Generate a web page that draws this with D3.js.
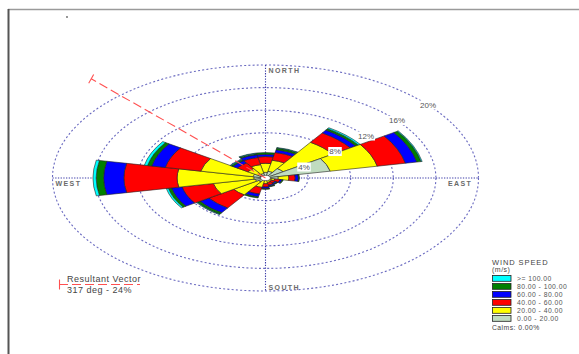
<!DOCTYPE html>
<html>
<head>
<meta charset="utf-8">
<script src="https://cdn.jsdelivr.net/npm/d3@7"></script>
<style>
  body { margin: 0; background: #fff; }
  svg { display: block; }
  text { font-family: Arial, "Liberation Sans", sans-serif; }
</style>
</head>
<body>
<svg id="chart" width="579" height="354"></svg>
<script>
// Sixteen compass sectors, clockwise from north
const directions = ["N", "NNE", "NE", "ENE", "E", "ESE", "SE", "SSE",
                    "S", "SSW", "SW", "WSW", "W", "WNW", "NW", "NNW"];

// Frequency (%) of each wind-speed class per direction
const speed0to20   = [1.0, 1.2, 2.0, 6.2, 1.2, 0.4, 0.3, 0.3, 0.4, 0.5, 0.8, 1.0, 1.1, 1.2, 0.6, 0.8];
const speed20to40  = [1.6, 2.0, 5.6, 4.5, 1.0, 0.5, 0.4, 0.5, 0.6, 1.2, 2.8, 4.0, 7.2, 5.0, 1.4, 1.6];
const speed40to60  = [1.2, 1.4, 2.0, 2.7, 0.6, 0.5, 0.4, 0.5, 0.6, 1.2, 2.8, 3.0, 5.0, 3.4, 1.2, 1.3];
const speed60to80  = [0.4, 0.5, 0.6, 1.1, 0.3, 0.2, 0.2, 0.2, 0.3, 0.5, 1.0, 1.0, 1.9, 1.3, 0.5, 0.5];
const speed80to100 = [0.3, 0.3, 0.3, 0.4, 0.1, 0.1, 0.1, 0.1, 0.1, 0.2, 0.3, 0.3, 0.7, 0.4, 0.2, 0.2];
const speed100up   = [0.0, 0.1, 0.2, 0.1, 0.0, 0.0, 0.0, 0.0, 0.0, 0.0, 0.1, 0.2, 0.3, 0.3, 0.1, 0.1];

const speedSeries = [speed0to20, speed20to40, speed40to60, speed60to80, speed80to100, speed100up];
const speedColors = ["#c0dcc0", "#ffff00", "#ff0000", "#0000ff", "#008000", "#00ffff"];
const speedLabels = ["0.00 - 20.00", "20.00 - 40.00", "40.00 - 60.00",
                     "60.00 - 80.00", "80.00 - 100.00", ">= 100.00"];

const ringTicks = [4, 8, 12, 16, 20];
const ringLabels = ["4%", "8%", "12%", "16%", "20%"];
const compassLabels = ["NORTH", "EAST", "SOUTH", "WEST"];

const resultantDeg = 317;
const resultantPct = 24;
const calmsLabel = "Calms: 0.00%";

// ---------------------------------------------------------------
const svg = d3.select("#chart");
const cx = 265.5, cy = 178;
const maxPct = 20;
const rx = d3.scaleLinear().domain([0, maxPct]).range([0, 213]);
const ry = d3.scaleLinear().domain([0, maxPct]).range([0, 113]);
const holePct = 0.45;

// Page frame
svg.append("line").attr("x1", 8).attr("y1", 9.5).attr("x2", 579).attr("y2", 9.5)
  .attr("stroke", "#9a9a9a").attr("stroke-width", 1.5);
svg.append("line").attr("x1", 8.5).attr("y1", 9).attr("x2", 8.5).attr("y2", 354)
  .attr("stroke", "#555").attr("stroke-width", 2);
svg.append("circle").attr("cx", 67).attr("cy", 17).attr("r", 0.9).attr("fill", "#666");

// Percentage rings (elliptical)
const grid = svg.append("g");
grid.selectAll("ellipse").data(ringTicks).join("ellipse")
  .attr("cx", cx).attr("cy", cy)
  .attr("rx", d => rx(d)).attr("ry", d => ry(d))
  .attr("fill", "none").attr("stroke", "#6a6ac0").attr("stroke-width", 1.1)
  .attr("stroke-dasharray", "2 2.2");

// Compass axes
grid.append("line").attr("x1", cx).attr("x2", cx).attr("y1", cy - ry(maxPct)).attr("y2", cy + ry(maxPct))
  .attr("stroke", "#3c3ca8").attr("stroke-width", 1.1).attr("stroke-dasharray", "1.3 1.4");
grid.append("line").attr("x1", cx - rx(maxPct)).attr("x2", cx + rx(maxPct)).attr("y1", cy).attr("y2", cy)
  .attr("stroke", "#3c3ca8").attr("stroke-width", 1.1).attr("stroke-dasharray", "1.3 1.4");

// Petals: stacked speed classes drawn as arcs in percent units, then stretched
const sector = 2 * Math.PI / directions.length;
const segments = [];
directions.forEach((dir, i) => {
  let acc = 0;
  speedSeries.forEach((series, k) => {
    const v = series[i];
    if (v <= 0) return;
    const r0 = Math.max(acc, holePct);
    acc += v;
    segments.push({ dir, k, r0, r1: acc, a0: i * sector - sector / 2, a1: i * sector + sector / 2 });
  });
});

const arc = d3.arc()
  .innerRadius(d => d.r0).outerRadius(d => d.r1)
  .startAngle(d => d.a0).endAngle(d => d.a1);

const rose = svg.append("g")
  .attr("transform", `translate(${cx},${cy}) scale(${rx(1)},${ry(1)})`);
rose.selectAll("path").data(segments).join("path")
  .attr("d", arc)
  .attr("fill", d => speedColors[d.k])
  .attr("stroke", "#222").attr("stroke-width", 0.6)
  .attr("vector-effect", "non-scaling-stroke");

// Calm hole
svg.append("ellipse").attr("cx", cx).attr("cy", cy)
  .attr("rx", rx(holePct)).attr("ry", ry(holePct))
  .attr("fill", "#fff").attr("stroke", "#444").attr("stroke-width", 0.5);

// Ring labels along a bearing of about 47°
const labelAngle = 46.7 * Math.PI / 180;
const rl = svg.append("g");
ringTicks.forEach((t, i) => {
  const x = cx + rx(t) * Math.sin(labelAngle) + 7.5;
  const y = cy - ry(t) * Math.cos(labelAngle) + 4;
  const txt = rl.append("text").attr("x", x).attr("y", y + 3)
    .attr("text-anchor", "middle").style("font-size", "8px").attr("fill", "#555")
    .text(ringLabels[i]);
  const bb = txt.node().getBBox();
  rl.insert("rect", "text").attr("x", bb.x - 1).attr("y", bb.y).attr("width", bb.width + 2)
    .attr("height", bb.height).attr("fill", "#fff");
});

// Compass point labels
const compassPos = [
  { x: cx + 3, y: cy - ry(maxPct) + 8 },
  { x: 448, y: cy + 8 },
  { x: cx + 3, y: cy + ry(maxPct) - 1 },
  { x: cx - rx(maxPct) + 3, y: cy + 8 }
];
svg.append("g").selectAll("text").data(compassLabels).join("text")
  .attr("x", (d, i) => compassPos[i].x).attr("y", (d, i) => compassPos[i].y)
  .style("font-size", "7px").style("font-weight", "bold").style("letter-spacing", "1.4px")
  .attr("fill", "#6a6a6a").text(d => d);

// Resultant vector
const ra = resultantDeg * Math.PI / 180;
const ex = cx + rx(resultantPct) * Math.sin(ra);
const ey = cy - ry(resultantPct) * Math.cos(ra);
svg.append("line").attr("x1", cx).attr("y1", cy).attr("x2", ex).attr("y2", ey)
  .attr("stroke", "#ff5050").attr("stroke-width", 1.1).attr("stroke-dasharray", "9 4");
{
  const len = Math.hypot(ex - cx, ey - cy);
  const px = -(ey - cy) / len, py = (ex - cx) / len;
  svg.append("line").attr("x1", ex - px * 5).attr("y1", ey - py * 5)
    .attr("x2", ex + px * 5).attr("y2", ey + py * 5)
    .attr("stroke", "#ff5050").attr("stroke-width", 1.1);
}

// Resultant vector key
const rv = svg.append("g");
rv.append("line").attr("x1", 59).attr("x2", 140).attr("y1", 284.5).attr("y2", 284.5)
  .attr("stroke", "#ff5050").attr("stroke-width", 1.1).attr("stroke-dasharray", "9 4");
rv.append("line").attr("x1", 59.5).attr("x2", 59.5).attr("y1", 279.5).attr("y2", 289.5)
  .attr("stroke", "#ff5050").attr("stroke-width", 1.1);
rv.append("text").attr("x", 67).attr("y", 282).style("font-size", "9px").style("letter-spacing", "0.5px")
  .attr("fill", "#444").text("Resultant Vector");
rv.append("text").attr("x", 67).attr("y", 292.5).style("font-size", "9px").style("letter-spacing", "0.5px")
  .attr("fill", "#444").text(`${resultantDeg} deg - ${resultantPct}%`);

// Wind speed legend
const lg = svg.append("g");
lg.append("text").attr("x", 492).attr("y", 264.5).style("font-size", "7.5px").style("letter-spacing", "0.9px")
  .attr("fill", "#444").text("WIND SPEED");
lg.append("text").attr("x", 492).attr("y", 272).style("font-size", "7px").style("letter-spacing", "0.5px")
  .attr("fill", "#444").text("(m/s)");
const legendOrder = d3.range(speedLabels.length).reverse();
legendOrder.forEach((k, row) => {
  const y = 275.5 + row * 8;
  lg.append("rect").attr("x", 492.5).attr("y", y).attr("width", 18.5).attr("height", 5.8)
    .attr("fill", speedColors[k]).attr("stroke", "#222").attr("stroke-width", 0.8);
  lg.append("text").attr("x", 517).attr("y", y + 5.2).style("font-size", "6.8px").style("letter-spacing", "0.45px")
    .attr("fill", "#555").text(speedLabels[k]);
});
lg.append("text").attr("x", 492).attr("y", 329.5).style("font-size", "6.8px").style("letter-spacing", "0.45px")
  .attr("fill", "#444").text(calmsLabel);
</script>
</body>
</html>
